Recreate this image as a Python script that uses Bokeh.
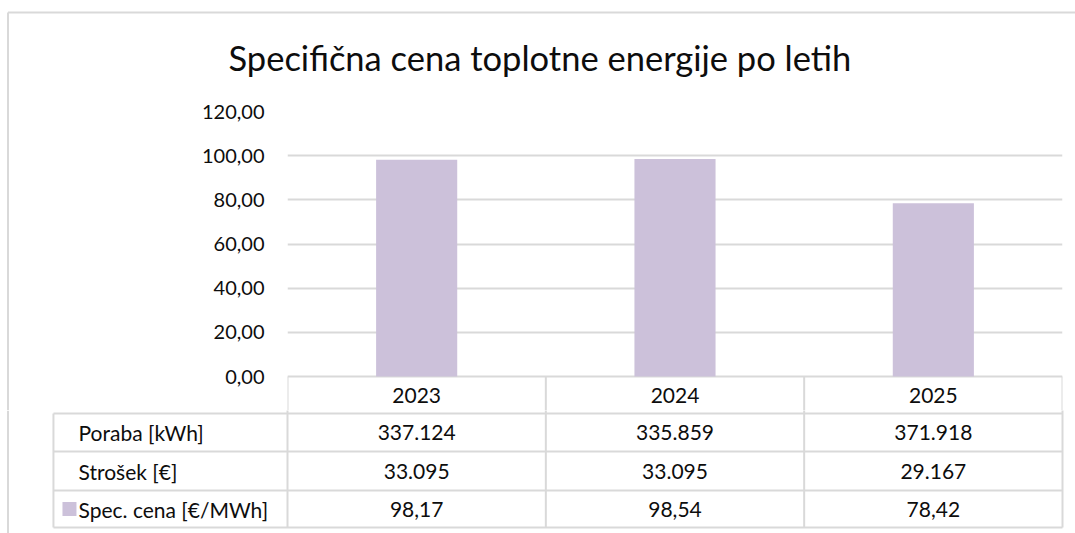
from bokeh.plotting import figure
from bokeh.models import Range1d, FactorRange, FixedTicker
from bokeh.embed import file_html
from bokeh.resources import INLINE
from bokeh.core.properties import value

# ---------------- data ----------------
title_text = "Specifična cena toplotne energije po letih"
years = ["2023", "2024", "2025"]
spec_cena = [98.17, 98.54, 78.42]
poraba = ["337.124", "335.859", "371.918"]
strosek = ["33.095", "33.095", "29.167"]
row_names = ["Poraba [kWh]", "Strošek [€]", "Spec. cena [€/MWh]"]
y_ticks = [0, 20, 40, 60, 80, 100, 120]
y_tick_labels = ["0,00", "20,00", "40,00", "60,00", "80,00", "100,00", "120,00"]

spec_cena_labels = [f"{v:.2f}".replace(".", ",") for v in spec_cena]

# ---------------- styles / layout ----------------
FONT = "Lato"
TXT = "#0d0d0d"
BAR = "#CCC1DA"
GRID = "#D9D9D9"
W = 1075
H0, H1, H2 = 98, 312, 123
BORDER_X = 7.5
FRAME_H = 265          # pixels for 0..120
BOTTOM_PAD = 34        # pixels below the zero line in the bar figure (header row)
PX = FRAME_H / 120     # pixels per unit

# ---------------- title band ----------------
p0 = figure(width=W, height=H0, x_range=Range1d(0, W), y_range=Range1d(H0, 0),
            output_backend="svg", toolbar_location=None,
            x_axis_type=None, y_axis_type=None, min_border=0)
p0.outline_line_color = None
p0.grid.visible = False
p0.segment(x0=[BORDER_X, BORDER_X], y0=[12, 12], x1=[W, BORDER_X], y1=[12, H0],
           line_color=GRID, line_width=2)
p0.text(x=[228], y=[57], text=[title_text], text_font=value(FONT), text_font_size="34.5px",
        text_align="left", text_baseline="alphabetic", text_color=TXT)

# ---------------- bar chart + table header ----------------
SHIFT = 9
y_start = -BOTTOM_PAD / PX
p1 = figure(width=W - SHIFT, height=H1, x_range=FactorRange(*years),
            y_range=Range1d(y_start, 120),
            output_backend="svg", toolbar_location=None,
            min_border_left=287 - SHIFT, min_border_right=13, min_border_top=13,
            min_border_bottom=0,
            styles={"margin-left": "7px", "border-left": "2px solid #D9D9D9"})
p1.vbar(x=years, top=spec_cena, width=0.314, color=BAR, line_color=None)
# header-row column separators
edges = [(y, -0.5) for y in years] + [(years[-1], 0.5)]
p1.segment(x0=edges, y0=[0] * 4, x1=edges, y1=[y_start - 2] * 4,
           line_color=GRID, line_width=2)
# header-row year labels
p1.text(x=years, y=[-19 / PX] * 3, text=years, text_font=value(FONT), text_font_size="21px",
        text_align="center", text_baseline="middle", text_color=TXT)

p1.xaxis.visible = False
p1.xgrid.visible = False
p1.ygrid.ticker = FixedTicker(ticks=y_ticks)
p1.ygrid.grid_line_color = GRID
p1.ygrid.grid_line_width = 2
p1.outline_line_color = None

ya = p1.yaxis[0]
ya.ticker = FixedTicker(ticks=y_ticks)
ya.major_label_overrides = {t: l for t, l in zip(y_ticks, y_tick_labels)}
ya.axis_line_color = None
ya.major_tick_line_color = None
ya.minor_tick_line_color = None
ya.major_tick_out = 0
ya.major_label_standoff = 23
ya.major_label_text_font = FONT
ya.major_label_text_font_size = "20px"
ya.major_label_text_color = TXT

# ---------------- data table rows ----------------
COLW = 258.33
x0 = -287 / COLW
x1 = (W - 287) / COLW
p2 = figure(width=W, height=H2, x_range=Range1d(x0, x1), y_range=Range1d(H2, 0),
            output_backend="svg", toolbar_location=None,
            x_axis_type=None, y_axis_type=None, min_border=0)
p2.outline_line_color = None
p2.grid.visible = False

row_edges = [3, 41, 80, 117]
lab_left = -0.906
# horizontal lines
p2.segment(x0=[lab_left] * 4, y0=row_edges, x1=[3] * 4, y1=row_edges,
           line_color=GRID, line_width=2)
# vertical lines
vx = [lab_left, 0, 1, 2, 3]
vy0 = [row_edges[0]] + [-2] * 4
vy1 = [row_edges[-1]] * 5
p2.segment(x0=vx, y0=vy0, x1=vx, y1=vy1, line_color=GRID, line_width=2)
# outer chart border (left)
bx = x0 + BORDER_X / COLW
p2.segment(x0=[bx], y0=[0], x1=[bx], y1=[H2], line_color=GRID, line_width=2)

centers = [22, 60.5, 98.5]
cx = [i + 0.5 for i in range(len(years))]
for r, vals in enumerate([poraba, strosek, spec_cena_labels]):
    p2.text(x=cx, y=[centers[r]] * 3, text=vals, text_font=value(FONT),
            text_font_size="21px", text_align="center", text_baseline="middle", text_color=TXT)
p2.text(x=[-0.809] * 3, y=centers, text=row_names, text_font=value(FONT),
        text_font_size="21px", text_align="left", text_baseline="middle", text_color=TXT)
p2.scatter(x=[-0.844], y=[centers[2]], marker="square", size=14, color=BAR, line_color=None)

open("out.html", "w").write(file_html([p0, p1, p2], INLINE))
